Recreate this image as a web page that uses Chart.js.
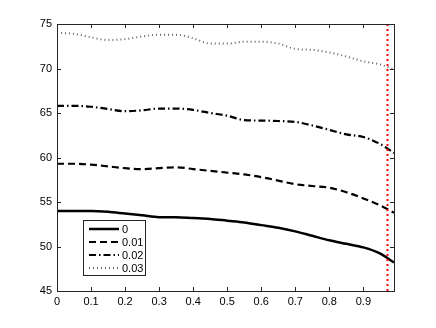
<!DOCTYPE html>
<html>
<head>
<meta charset="utf-8">
<script src="https://cdn.jsdelivr.net/npm/chart.js@4.4.0/dist/chart.umd.min.js"></script>
<style>
  html, body { margin: 0; padding: 0; background: #fff; }
  #wrap { width: 436px; height: 328px; }
</style>
</head>
<body>
<div id="wrap"><canvas id="c" width="436" height="328"></canvas></div>
<script>
// sample positions along x
var xs = [0, 0.05, 0.1, 0.15, 0.2, 0.25, 0.3, 0.35, 0.4, 0.45, 0.5,
          0.55, 0.6, 0.65, 0.7, 0.75, 0.8, 0.85, 0.9, 0.95, 0.99];

var labels = ['0', '0.01', '0.02', '0.03'];

var s0 = [54.0, 54.0, 54.0, 53.9, 53.7, 53.5, 53.3, 53.3, 53.2, 53.1, 52.9,
          52.7, 52.4, 52.1, 51.7, 51.2, 50.7, 50.3, 49.9, 49.2, 48.2];
var s1 = [59.3, 59.3, 59.2, 59.0, 58.8, 58.7, 58.8, 58.9, 58.7, 58.5, 58.3,
          58.1, 57.8, 57.4, 57.0, 56.8, 56.6, 56.1, 55.4, 54.6, 53.8];
var s2 = [65.8, 65.8, 65.7, 65.45, 65.2, 65.3, 65.5, 65.5, 65.35, 65.0, 64.7,
          64.2, 64.15, 64.1, 64.0, 63.6, 63.1, 62.6, 62.3, 61.5, 60.5];
var s3 = [74.0, 73.9, 73.5, 73.2, 73.3, 73.6, 73.8, 73.8, 73.4, 72.8, 72.8,
          73.0, 73.0, 72.8, 72.2, 72.1, 71.8, 71.35, 70.8, 70.45, 69.9];

var xTicks = [0, 0.1, 0.2, 0.3, 0.4, 0.5, 0.6, 0.7, 0.8, 0.9];
var yTicks = [45, 50, 55, 60, 65, 70, 75];
var xMin = 0, xMax = 0.99, yMin = 45, yMax = 75;
var cutoff = 0.97;

function pts(ys) {
    return ys.map(function (y, i) { return { x: xs[i], y: y }; });
}

var styles = [
    { dash: [], width: 2.5, color: '#000' },
    { dash: [7, 4], width: 2.2, color: '#000' },
    { dash: [7, 3, 1.5, 3], width: 2.2, color: '#000' },
    { dash: [1, 3], width: 2, color: '#666' }
];

var series = [s0, s1, s2, s3];
var datasets = series.map(function (s, i) {
    return {
        label: labels[i],
        data: pts(s),
        borderColor: styles[i].color,
        borderWidth: styles[i].width,
        borderDash: styles[i].dash,
        pointRadius: 0,
        cubicInterpolationMode: 'monotone',
        fill: false
    };
});

// box, inward ticks, red cutoff line and legend
var matlabAxes = {
    id: 'matlabAxes',
    afterDatasetsDraw: function (chart) {
        var ctx = chart.ctx;
        var xs_ = chart.scales.x, ys_ = chart.scales.y;
        var a = chart.chartArea;
        ctx.save();

        // red dotted cutoff
        var rx = Math.round(xs_.getPixelForValue(cutoff)) + 0.5;
        ctx.strokeStyle = '#ff0000';
        ctx.lineWidth = 2;
        ctx.setLineDash([2, 3]);
        ctx.beginPath();
        ctx.moveTo(rx, a.top);
        ctx.lineTo(rx, a.bottom);
        ctx.stroke();
        ctx.setLineDash([]);

        // axes box
        ctx.strokeStyle = '#262626';
        ctx.lineWidth = 1;
        ctx.strokeRect(Math.round(a.left) + 0.5, Math.round(a.top) + 0.5,
            Math.round(a.right - a.left), Math.round(a.bottom - a.top));

        // ticks pointing inward
        var tl = 4;
        ctx.beginPath();
        xTicks.forEach(function (v) {
            var px = Math.round(xs_.getPixelForValue(v)) + 0.5;
            ctx.moveTo(px, a.bottom); ctx.lineTo(px, a.bottom - tl);
            ctx.moveTo(px, a.top); ctx.lineTo(px, a.top + tl);
        });
        yTicks.forEach(function (v) {
            var py = Math.round(ys_.getPixelForValue(v)) + 0.5;
            ctx.moveTo(a.left, py); ctx.lineTo(a.left + tl, py);
            ctx.moveTo(a.right, py); ctx.lineTo(a.right - tl, py);
        });
        ctx.stroke();

        // legend
        var lx = 83.5, ly = 220.5, lw = 62, lh = 55;
        ctx.fillStyle = '#fff';
        ctx.fillRect(lx, ly, lw, lh);
        ctx.strokeStyle = '#262626';
        ctx.lineWidth = 1;
        ctx.strokeRect(lx, ly, lw, lh);
        ctx.font = '11px "Liberation Sans", Arial, sans-serif';
        ctx.textBaseline = 'middle';
        ctx.textAlign = 'left';
        chart.data.datasets.forEach(function (ds, i) {
            var y = 229 + i * 13;
            ctx.strokeStyle = ds.borderColor;
            ctx.lineWidth = ds.borderWidth;
            ctx.setLineDash(ds.borderDash);
            ctx.beginPath();
            ctx.moveTo(89, y);
            ctx.lineTo(119, y);
            ctx.stroke();
            ctx.setLineDash([]);
            ctx.fillStyle = '#000';
            ctx.fillText(ds.label, 122, y + 0.5);
        });
        ctx.restore();
    }
};

new Chart(document.getElementById('c'), {
    type: 'line',
    data: { datasets: datasets },
    plugins: [matlabAxes],
    options: {
        responsive: false,
        animation: false,
        layout: { padding: { left: 0, top: 24, right: 42, bottom: 0 } },
        plugins: { legend: { display: false }, tooltip: { enabled: false } },
        scales: {
            x: {
                type: 'linear',
                min: xMin,
                max: xMax,
                afterBuildTicks: function (scale) {
                    scale.ticks = xTicks.map(function (v) { return { value: v }; });
                },
                afterFit: function (scale) { scale.height = 37; },
                grid: { display: false, drawTicks: false },
                border: { display: false },
                ticks: {
                    padding: 4,
                    color: '#000',
                    font: { family: '"Liberation Sans", Arial, sans-serif', size: 11 },
                    callback: function (v) { return String(v); }
                }
            },
            y: {
                min: yMin,
                max: yMax,
                afterBuildTicks: function (scale) {
                    scale.ticks = yTicks.map(function (v) { return { value: v }; });
                },
                afterFit: function (scale) { scale.width = 57; },
                grid: { display: false, drawTicks: false },
                border: { display: false },
                ticks: {
                    padding: 5,
                    color: '#000',
                    font: { family: '"Liberation Sans", Arial, sans-serif', size: 11 },
                    callback: function (v) { return String(v); }
                }
            }
        }
    }
});
</script>
</body>
</html>
